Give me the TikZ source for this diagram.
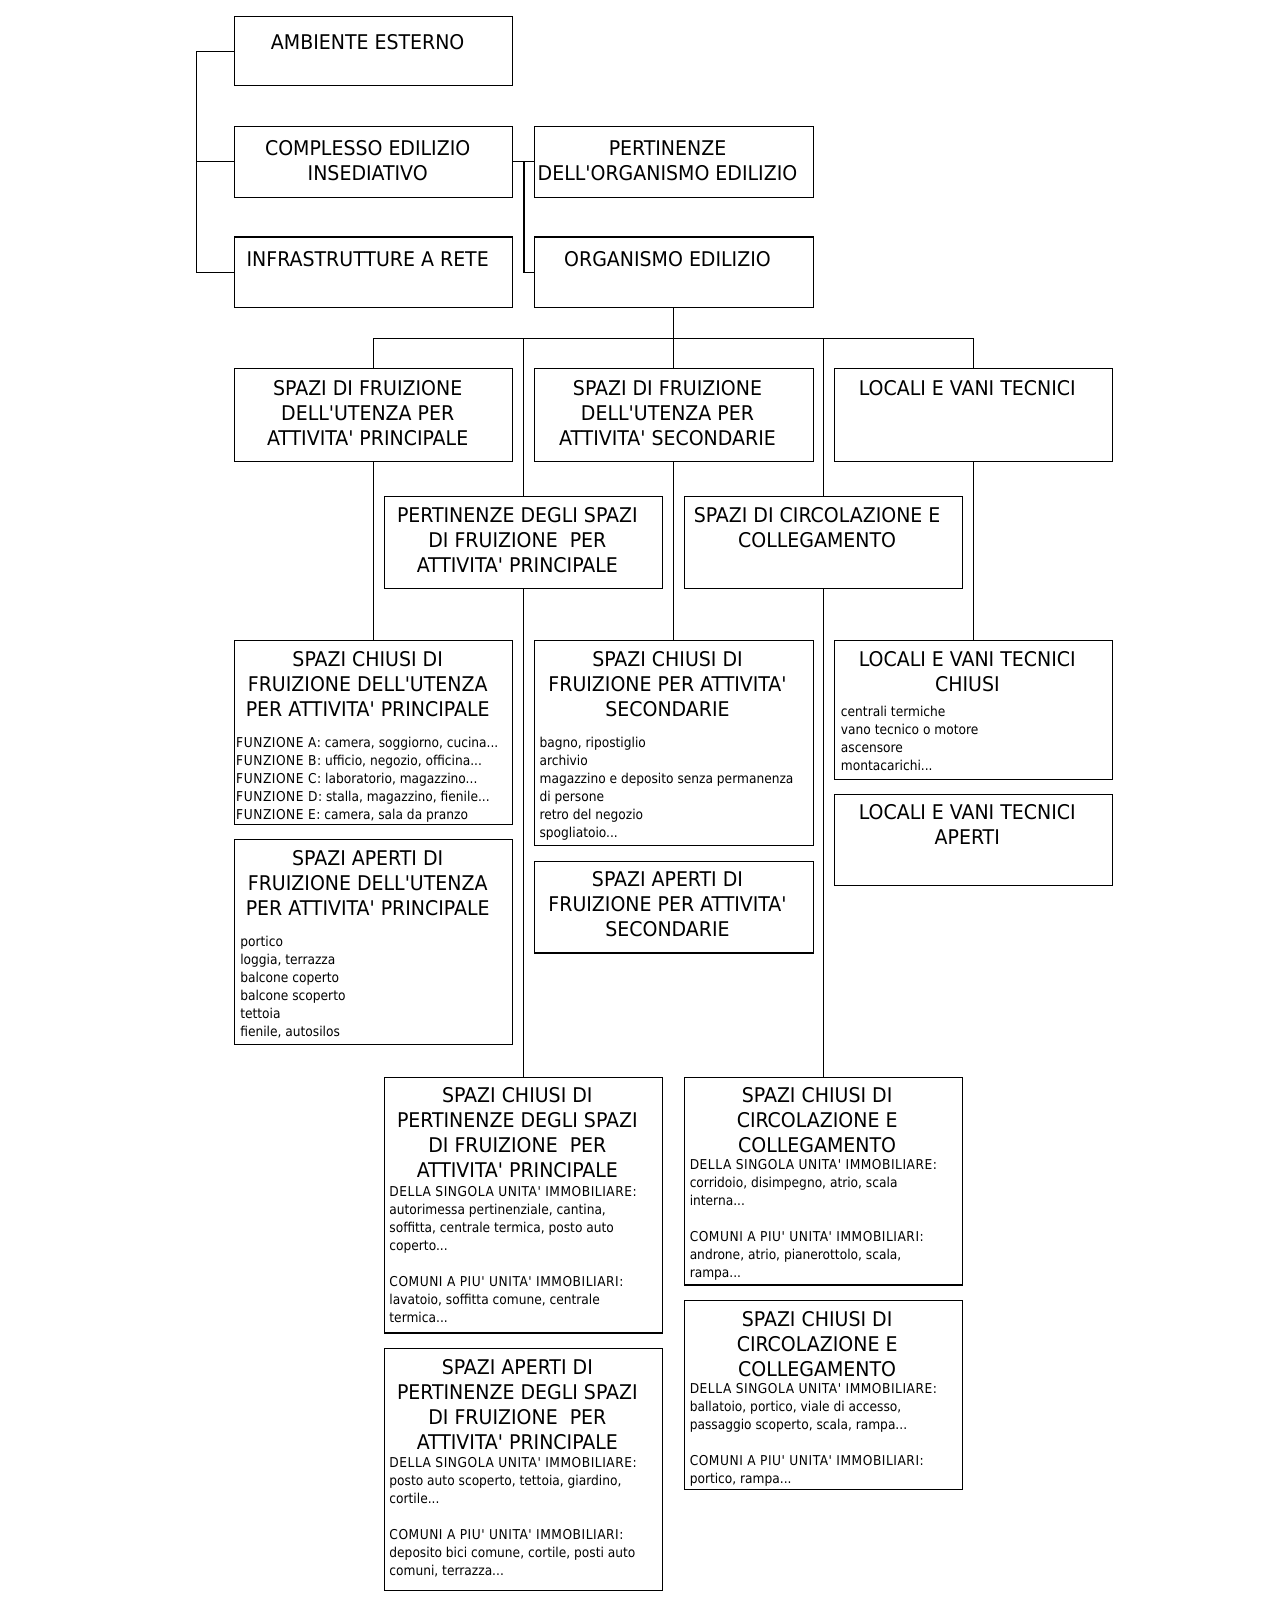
\documentclass[tikz,border=0pt]{standalone}
\usepackage{fontspec}
\setmainfont{DejaVu Sans Condensed}[Ligatures=TeXOff]
\newdimen\ux \ux=0.7661pt
\newcommand\ucs[1]{{\addfontfeature{LetterSpace=4}#1}}
\tikzset{
  box/.style={draw, line width=0.8pt, inner sep=0pt, outer sep=0pt, anchor=north west},
  conn/.style={line width=0.8pt},
  ttl/.style={align=center, inner sep=0pt, anchor=north, font=\fontsize{15.2}{18.8}\selectfont\addfontfeature{FakeStretch=1.04}},
  lst/.style={align=left, inner sep=0pt, anchor=north west, font=\fontsize{10.2}{13.5}\selectfont},
}
\newcommand\bx[5]{\node[box, minimum width={(#4-#2)*\ux}, minimum height={(#5-#3)*\ux}] (#1) at (#2,#3) {};}
\newcommand\ttlat[3]{\node[ttl] (#1t) at ([xshift=-6*\ux]#1.north |- 0,#2-10) {\strut #3};}
\newcommand\lstat[4]{\node[lst] (#1l) at (#2,#3-7.8) {\strut #4};}
\begin{document}
\begin{tikzpicture}[x=\ux, y=-\ux]
\fill[white] (1,0) rectangle (1254.1,1566.4);
\useasboundingbox (1,0) rectangle (1254.1,1566.4);
% boxes
\bx{A}{231}{16}{503}{84}
\bx{B}{231}{124}{503}{193}
\bx{C}{231}{232}{503}{301}
\bx{D}{524}{124}{797}{193}
\bx{E}{524}{232}{797}{301}
\bx{F}{231}{361}{503}{452}
\bx{G}{524}{361}{797}{452}
\bx{H}{818}{361}{1090}{452}
\bx{I}{377}{486}{650}{576}
\bx{J}{671}{486}{943}{576}
\bx{K}{231}{627}{503}{807}
\bx{KA}{231}{822}{503}{1023}
\bx{L}{524}{627}{797}{828}
\bx{LA}{524}{843}{797}{933}
\bx{M}{818}{627}{1090}{763}
\bx{MA}{818}{778}{1090}{867}
\bx{O}{377}{1055}{650}{1305}
\bx{OA}{377}{1320}{650}{1557}
\bx{Q}{671}{1055}{943}{1258}
\bx{QA}{671}{1273}{943}{1458}
% titles
\ttlat{A}{41}{AMBIENTE ESTERNO}
\ttlat{B}{145}{COMPLESSO EDILIZIO\\INSEDIATIVO}
\ttlat{C}{253}{INFRASTRUTTURE A RETE}
\ttlat{D}{145}{PERTINENZE\\DELL'ORGANISMO EDILIZIO}
\ttlat{E}{253}{ORGANISMO EDILIZIO}
\ttlat{F}{380}{SPAZI DI FRUIZIONE\\DELL'UTENZA PER\\ATTIVITA' PRINCIPALE}
\ttlat{G}{380}{SPAZI DI FRUIZIONE\\DELL'UTENZA PER\\ATTIVITA' SECONDARIE}
\ttlat{H}{380}{LOCALI E VANI TECNICI}
\ttlat{I}{504}{PERTINENZE DEGLI SPAZI\\DI FRUIZIONE\ \ PER\\ATTIVITA' PRINCIPALE}
\ttlat{J}{504}{SPAZI DI CIRCOLAZIONE E\\COLLEGAMENTO}
\ttlat{K}{645}{SPAZI CHIUSI DI\\FRUIZIONE DELL'UTENZA\\PER ATTIVITA' PRINCIPALE}
\ttlat{KA}{840}{SPAZI APERTI DI\\FRUIZIONE DELL'UTENZA\\PER ATTIVITA' PRINCIPALE}
\ttlat{L}{645}{SPAZI CHIUSI DI\\FRUIZIONE PER ATTIVITA'\\SECONDARIE}
\ttlat{LA}{860}{SPAZI APERTI DI\\FRUIZIONE PER ATTIVITA'\\SECONDARIE}
\ttlat{M}{645}{LOCALI E VANI TECNICI\\CHIUSI}
\ttlat{MA}{795}{LOCALI E VANI TECNICI\\APERTI}
\ttlat{O}{1072}{SPAZI CHIUSI DI\\PERTINENZE DEGLI SPAZI\\DI FRUIZIONE\ \ PER\\ATTIVITA' PRINCIPALE}
\ttlat{OA}{1338}{SPAZI APERTI DI\\PERTINENZE DEGLI SPAZI\\DI FRUIZIONE\ \ PER\\ATTIVITA' PRINCIPALE}
\ttlat{Q}{1072}{SPAZI CHIUSI DI\\CIRCOLAZIONE E\\COLLEGAMENTO}
\ttlat{QA}{1291}{SPAZI CHIUSI DI\\CIRCOLAZIONE E\\COLLEGAMENTO}
% lists
\lstat{K}{232}{727}{\ucs{FUNZIONE A:} camera, soggiorno, cucina...\\\ucs{FUNZIONE B:} ufficio, negozio, officina...\\\ucs{FUNZIONE C:} laboratorio, magazzino...\\\ucs{FUNZIONE D:} stalla, magazzino, fienile...\\\ucs{FUNZIONE E:} camera, sala da pranzo}
\lstat{KA}{236}{922}{portico\\loggia, terrazza\\balcone coperto\\balcone scoperto\\tettoia\\fienile, autosilos}
\lstat{L}{529}{727}{bagno, ripostiglio\\archivio\\magazzino e deposito senza permanenza\\di persone\\retro del negozio\\spogliatoio...}
\lstat{M}{824}{697}{centrali termiche\\vano tecnico o motore\\ascensore\\montacarichi...}
\lstat{O}{382}{1167}{\ucs{DELLA SINGOLA UNITA' IMMOBILIARE:}\\autorimessa pertinenziale, cantina,\\soffitta, centrale termica, posto auto\\coperto...\\\mbox{}\\\ucs{COMUNI A PIU' UNITA' IMMOBILIARI:}\\lavatoio, soffitta comune, centrale\\termica...}
\lstat{OA}{382}{1432}{\ucs{DELLA SINGOLA UNITA' IMMOBILIARE:}\\posto auto scoperto, tettoia, giardino,\\cortile...\\\mbox{}\\\ucs{COMUNI A PIU' UNITA' IMMOBILIARI:}\\deposito bici comune, cortile, posti auto\\comuni, terrazza...}
\lstat{Q}{676}{1140}{\ucs{DELLA SINGOLA UNITA' IMMOBILIARE:}\\corridoio, disimpegno, atrio, scala\\interna...\\\mbox{}\\\ucs{COMUNI A PIU' UNITA' IMMOBILIARI:}\\androne, atrio, pianerottolo, scala,\\rampa...}
\lstat{QA}{676}{1359}{\ucs{DELLA SINGOLA UNITA' IMMOBILIARE:}\\ballatoio, portico, viale di accesso,\\passaggio scoperto, scala, rampa...\\\mbox{}\\\ucs{COMUNI A PIU' UNITA' IMMOBILIARI:}\\portico, rampa...}
% connectors
\coordinate (lb) at (193,0);
\coordinate (mb) at (514,0);
\coordinate (bus) at (0,331);
\draw[conn] (A.west) -- (A.west -| lb) -- (C.west -| lb) -- (C.west);
\draw[conn] (B.west) -- (B.west -| lb);
\draw[conn] (B.east) -- (D.west);
\draw[conn] (B.east -| mb) |- (E.west);
\draw[conn] (E.south) -- (E.south |- bus);
\draw[conn] (F.north |- bus) -- (H.north |- bus);
\foreach \n in {F,I,G,J,H} \draw[conn] (\n.north |- bus) -- (\n.north);
\draw[conn] (F.south) -- (K.north);
\draw[conn] (G.south) -- (L.north);
\draw[conn] (H.south) -- (M.north);
\draw[conn] (I.south) -- (O.north);
\draw[conn] (J.south) -- (Q.north);
\end{tikzpicture}
\end{document}
